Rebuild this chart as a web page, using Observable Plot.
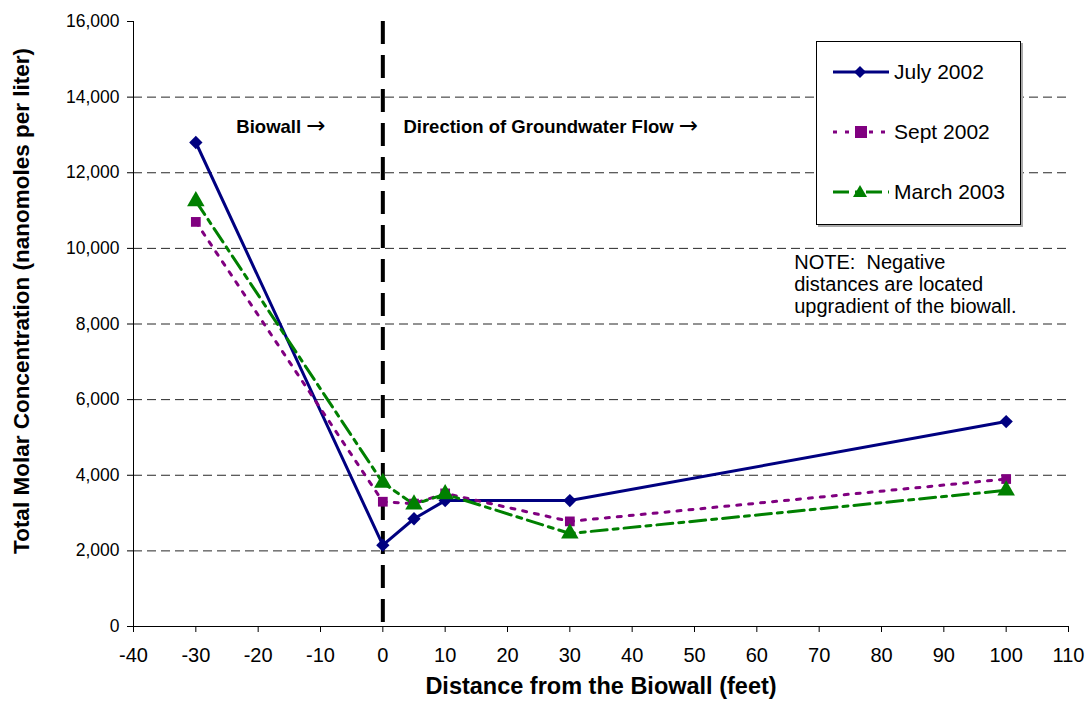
<!DOCTYPE html>
<html><head><meta charset="utf-8">
<script src="https://cdn.jsdelivr.net/npm/d3@7"></script>
<script src="https://cdn.jsdelivr.net/npm/@observablehq/plot@0.6"></script>
<style>
body{margin:0;background:#fff;font-family:"Liberation Sans",Arial,sans-serif;}
#wrap{position:relative;width:1086px;height:704px;overflow:hidden;}
#legend{position:absolute;left:816px;top:41px;width:203px;height:182px;border:1px solid #000;background:#fff;box-shadow:2px 2px 0 #aaa;font-size:21px;color:#000;}
.item{position:absolute;left:15px;display:flex;align-items:center;}
.item span{margin-left:4px;}
</style></head><body><div id="wrap"></div>
<script>
const distances = [-30, 0, 5, 10, 30, 100];
const july2002 = [12800, 2150, 2850, 3330, 3330, 5420];
const sept2002 = [10700, 3300, 3250, 3520, 2780, 3900];
const march2003 = [11250, 3800, 3230, 3500, 2460, 3600];
const seriesNames = ["July 2002", "Sept 2002", "March 2003"];
const xTicks = d3.range(-40, 111, 10);
const yTicks = d3.range(0, 16001, 2000);

const seriesValues = [july2002, sept2002, march2003];
const colors = ["#000080", "#800080", "#008000"];
const dashes = ["none", "4,8", "16,6,5,6"];
const symbols = ["diamond2", "square", "triangle"];
const radii = [6, 5.5, 6.5];

const rows = seriesNames.flatMap((s, i) => distances.map((d, j) => ({series: s, idx: i, x: d, y: seriesValues[i][j]})));

const marks = [
  Plot.ruleY(yTicks.filter(d => d > 0 && d < 16000), {stroke: "#000", strokeOpacity: 0.85, strokeDasharray: "9,5", strokeWidth: 1}),
  Plot.ruleX([0], {stroke: "#000", strokeWidth: 4, strokeDasharray: "23,11"}),
  Plot.ruleX([-40], {stroke: "#000", strokeWidth: 1}),
  Plot.ruleY([0], {stroke: "#000", strokeWidth: 1}),
];
seriesNames.forEach((s, i) => {
  const data = rows.filter(r => r.idx === i);
  marks.push(Plot.line(data, {x: "x", y: "y", stroke: colors[i], strokeWidth: 3, strokeDasharray: dashes[i]}));
});
seriesNames.forEach((s, i) => {
  const data = rows.filter(r => r.idx === i);
  marks.push(Plot.dot(data, {x: "x", y: "y", symbol: () => symbols[i], fill: colors[i], stroke: "none", r: radii[i]}));
});
marks.push(
  Plot.axisY({ticks: yTicks, tickFormat: d3.format(","), tickSize: 6, tickPadding: 8, label: null}),
  Plot.axisX({ticks: xTicks, tickFormat: () => "", tickSize: 6, label: null}),
  Plot.text(xTicks, {x: d => d, y: () => 0, text: d => String(d), dy: 29, fontSize: 20}),
  Plot.text(["Total Molar Concentration (nanomoles per liter)"], {frameAnchor: "left", textAnchor: "middle", rotate: -90, dx: -112, dy: -23, fontWeight: "bold", fontSize: 22.5}),
  Plot.text(["Distance from the Biowall (feet)"], {frameAnchor: "bottom", textAnchor: "middle", dy: 67, fontWeight: "bold", fontSize: 23.5}),
  Plot.text(["Biowall →"], {x: () => -23.5, y: () => 13200, textAnchor: "start", fontWeight: "bold", fontSize: 18.5}),
  Plot.text(["Direction of Groundwater Flow →"], {x: () => 3.3, y: () => 13200, textAnchor: "start", fontWeight: "bold", fontSize: 18.5}),
  Plot.text(["NOTE:  Negative\ndistances are located\nupgradient of the biowall."], {x: () => 66.0, y: () => 9880, textAnchor: "start", lineAnchor: "top", lineHeight: 1.1, fontSize: 20})
);

const chart = Plot.plot({
  width: 1086, height: 704,
  marginLeft: 133, marginRight: 18, marginTop: 21, marginBottom: 78,
  x: {domain: [-40, 110]},
  y: {domain: [0, 16000]},
  style: {fontFamily: '"Liberation Sans", Arial, sans-serif', fontSize: "17.5px", color: "#000", background: "#fff"},
  marks
});
// render the arrow glyph with a font that has a full-size arrow
d3.select(chart).selectAll("text").each(function() {
  if (this.children.length === 0 && this.textContent.includes("→")) {
    const t = this.textContent.replace(" →", " ");
    this.textContent = t;
    d3.select(this).append("tspan").attr("font-family", '"DejaVu Sans"').attr("font-weight", "normal").attr("font-size", "23px").text("→");
  }
});
const wrap = document.getElementById("wrap");
wrap.appendChild(chart);

// legend
const legend = document.createElement("div");
legend.id = "legend";
const tops = [18, 78, 138];
seriesNames.forEach((s, i) => {
  const item = document.createElement("div");
  item.className = "item";
  item.style.top = tops[i] + "px";
  let sym;
  if (i === 0) sym = `<path d="M28,6 L34,12 L28,18 L22,12 Z" fill="${colors[0]}"/>`;
  else if (i === 1) sym = `<rect x="23" y="6" width="12" height="12" fill="${colors[1]}"/>`;
  else sym = `<path d="M28,5 L35,17 L21,17 Z" fill="${colors[2]}"/>`;
  item.innerHTML = `<svg width="58" height="24"><line x1="1" y1="12" x2="57" y2="12" stroke="${colors[i]}" stroke-width="3" stroke-dasharray="${dashes[i]}"/>${sym}</svg><span>${s}</span>`;
  legend.appendChild(item);
});
wrap.appendChild(legend);
</script>
</body></html>
